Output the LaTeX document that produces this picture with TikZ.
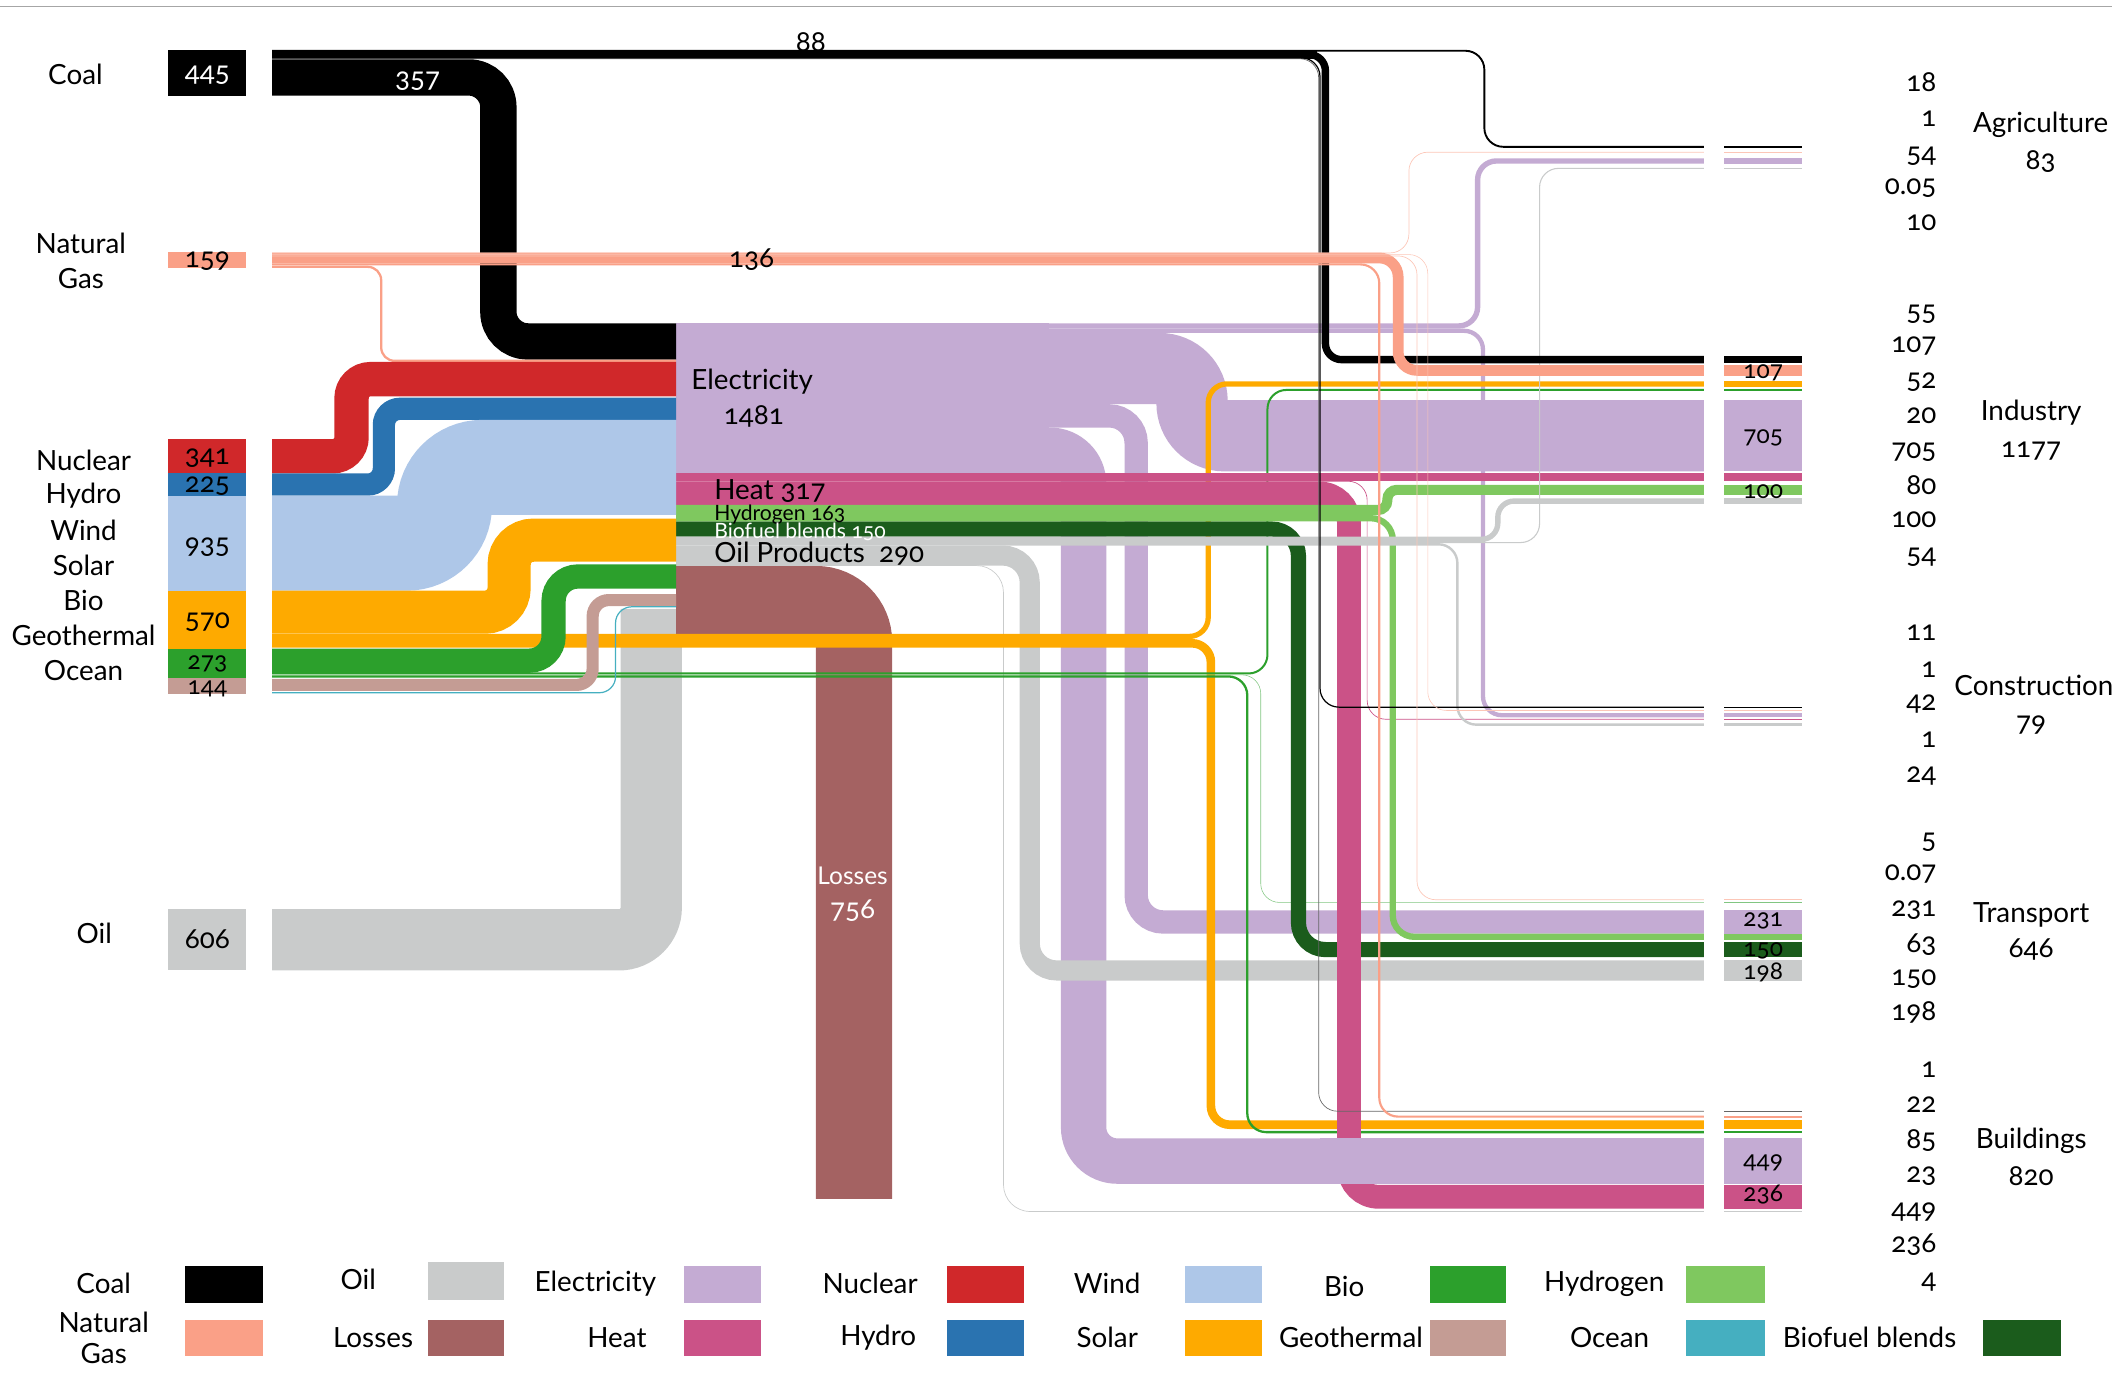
\documentclass[tikz,border=0pt]{standalone}
\usepackage{fontspec}
\setmainfont{Lato}[Numbers=OldStyle, Scale=0.94]
\usetikzlibrary{positioning}

\definecolor{gasc}{RGB}{250,160,135}
\definecolor{nucc}{RGB}{208,40,42}
\definecolor{hydc}{RGB}{42,115,176}
\definecolor{windc}{RGB}{174,199,232}
\definecolor{solc}{RGB}{254,170,0}
\definecolor{bioc}{RGB}{44,160,44}
\definecolor{geoc}{RGB}{196,156,148}
\definecolor{ocec}{RGB}{69,175,192}
\definecolor{oilc}{RGB}{201,203,203}
\definecolor{elec}{RGB}{196,171,211}
\definecolor{heatc}{RGB}{203,82,135}
\definecolor{hydrc}{RGB}{127,200,95}
\definecolor{bfuc}{RGB}{27,92,28}
\definecolor{lossc}{RGB}{164,98,98}

\tikzset{
  fl/.style={line width=#1*0.02cm},
  rc/.style={rounded corners=#1*0.02cm},
  lbl/.style={font=\fontsize{12.5}{14}\selectfont},
  small/.style={font=\fontsize{9.5}{10}\selectfont},
  tag/.style={font=\fontsize{12.5}{14}\selectfont, anchor=east},
  sbox/.style={font=\fontsize{11}{12}\selectfont},
}

\begin{document}
\begin{tikzpicture}[x=0.02cm,y=-0.02cm]
\tikzstyle{every node}+=[inner sep=0pt]
\useasboundingbox (0,0) rectangle (1568,1027);
\draw [black!35] (0,5) -- (1568,5);

% oil in and losses
\draw [oilc, fl=45.5, rc=24] (202,697.75) -- (483.5,697.75) -- (483.5,452);
\draw [lossc, fl=56.7, rc=28] (502,448.55) -- (634,448.55) -- (634,890);

% electricity
\fill [elec] (502,240) rectangle (779,351.1);
\draw [elec, fl=4, rc=14] (502,242) -- (1097,242) -- (1097,119.5) -- (1265,119.5);
\draw [elec, fl=3.2, rc=14] (502,245.6) -- (1101,245.6) -- (1101,531) -- (1265,531);
\draw [elec, fl=52.9, rc=24] (502,273.65) -- (885,273.65) -- (885,323.5) -- (1265,323.5);
\draw [elec, fl=17.3, rc=20] (502,308.75) -- (843.5,308.75) -- (843.5,684.5) -- (1265,684.5);
\draw [elec, fl=33.7, rc=25] (502,334.25) -- (804.5,334.25) -- (804.5,862) -- (1265,862);

% oil products (lower part)
\draw [oilc, fl=14.9, rc=20] (502,412.45) -- (764.5,412.45) -- (764.5,720.5) -- (1265,720.5);
\draw [oilc, fl=0.5, rc=20] (502,419.9) -- (745,419.9) -- (745,899.5) -- (1265,899.5);

% solar and bio direct
\draw [solc, fl=3.9, rc=14] (202,472.5) -- (897,472.5) -- (897,285) -- (1265,285);
\draw [solc, fl=6.4, rc=14] (202,477.6) -- (899,477.6) -- (899,835) -- (1265,835);
\draw [bioc, fl=1.5, rc=14] (202,500) -- (941,500) -- (941,289.5) -- (1265,289.5);
\draw [bioc!60, fl=0.4, rc=14] (202,501) -- (936,501) -- (936,670) -- (1265,670);
\draw [bioc, fl=1.7, rc=14] (202,502.2) -- (926,502.2) -- (926,840.5) -- (1265,840.5);

% biofuel blends
\draw [bfuc, fl=11.25, rc=20] (502,392.75) -- (964,392.75) -- (964,705) -- (1265,705);

% heat
\draw [heatc, fl=6] (502,354.1) -- (1265,354.1);
\draw [heatc, fl=0.5, rc=14] (502,357.3) -- (1015,357.3) -- (1015,534) -- (1265,534);
\draw [heatc, fl=17.7, rc=22] (502,366.35) -- (1001.5,366.35) -- (1001.5,888.5) -- (1265,888.5);

% hydrogen
\draw [hydrc, fl=7.5, rc=7] (502,378.65) -- (1030,378.65) -- (1030,363.7) -- (1265,363.7);
\draw [hydrc, fl=4.7, rc=16] (502,384.75) -- (1034,384.75) -- (1034,695.5) -- (1265,695.5);

% oil products (upper part)
\draw [oilc, fl=4, rc=12] (502,400.4) -- (1112,400.4) -- (1112,372) -- (1265,372);
\draw [oilc, fl=0.8, rc=14] (502,402.8) -- (1143,402.8) -- (1143,125) -- (1265,125);
\draw [oilc, fl=1.8, rc=14] (502,404.1) -- (1082,404.1) -- (1082,538) -- (1265,538);

% coal
\draw [black, fl=27, rc=22] (202,57.5) -- (370,57.5) -- (370,253.5) -- (502,253.5);
\draw [black, fl=6.8] (202,40.5) -- (978,40.5);
\draw [black, fl=1.4, rc=14] (202,37.7) -- (1102,37.7) -- (1102,109) -- (1265,109);
\draw [black, fl=5.5, rc=12] (202,40.5) -- (984,40.5) -- (984,267) -- (1265,267);
\draw [black, fl=0.9, rc=14] (202,42.9) -- (980,42.9) -- (980,525) -- (1265,525);
\draw [black!60, fl=0.5, rc=14] (202,43.6) -- (979,43.6) -- (979,825) -- (1265,825);

% natural gas
\draw [gasc, fl=8, rc=14] (202,191.5) -- (1038,191.5) -- (1038,275) -- (1265,275);
\draw [gasc!60, fl=0.5, rc=14] (202,187.8) -- (1046,187.8) -- (1046,113) -- (1265,113);
\draw [gasc!60, fl=0.5, rc=14] (202,190) -- (1052,190) -- (1052,668) -- (1265,668);
\draw [gasc!60, fl=0.4, rc=14] (202,189) -- (1060,189) -- (1060,527.5) -- (1265,527.5);
\draw [gasc, fl=1.6, rc=14] (202,196.3) -- (1024,196.3) -- (1024,829) -- (1265,829);
\draw [gasc, fl=1.7, rc=10] (202,198.1) -- (283,198.1) -- (283,267.9) -- (502,267.9);

% renewables and nuclear into the converter
\draw [nucc, fl=25.5, rc=14] (202,338.75) -- (261,338.75) -- (261,281.5) -- (502,281.5);
\draw [hydc, fl=16.5, rc=12] (202,359.75) -- (285,359.75) -- (285,303.5) -- (502,303.5);
\draw [windc, fl=70.5, rc=28] (202,403.25) -- (330,403.25) -- (330,347) -- (502,347);
\draw [solc, fl=32, rc=18] (202,454.5) -- (378,454.5) -- (378,401) -- (502,401);
\draw [bioc, fl=18, rc=18] (202,490.5) -- (411,490.5) -- (411,428) -- (502,428);
\draw [geoc, fl=9, rc=12] (202,508.5) -- (440,508.5) -- (440,445.5) -- (502,445.5);
\draw [ocec, fl=0.9, rc=12] (202,514.3) -- (457,514.3) -- (457,450.5) -- (502,450.5);

% electricity to buildings on top
\draw [elec, fl=33.7] (980,862) -- (1265,862);

% sector boxes
\foreach \y/\t/\c in {109/1.4/black, 113/0.5/gasc!60, 119.5/4/elec, 125/0.8/oilc,
  267/5.5/black, 275/8/gasc, 285/3.9/solc, 289.5/1.5/bioc, 323.5/52.9/elec,
  354.1/6/heatc, 363.7/7.5/hydrc, 372/4/oilc,
  525/0.9/black, 527.5/0.4/gasc!60, 531/3.2/elec, 534/0.5/heatc, 538/1.8/oilc,
  668/0.5/gasc!60, 670/0.3/bioc!60, 684.5/17.3/elec, 695.5/4.7/hydrc, 705/11.25/bfuc, 720.5/14.9/oilc,
  825/0.5/black!60, 829/1.6/gasc, 835/6.4/solc, 840.5/1.7/bioc, 862/33.7/elec, 888.5/17.7/heatc, 899.5/0.5/oilc}
  \draw [\c, fl=\t] (1280,\y) -- (1338,\y);
\node[sbox] (s107) at (1309,277) {107};
\node[sbox] (s705) at (1309,325) {705};
\node[sbox] (s100) at (1309,365) {100};
\node[sbox] (s231) at (1309,684) {231};
\node[sbox] (s150) at (1309,706) {150};
\node[sbox] (s198) at (1309,722) {198};
\node[sbox] (s449) at (1309,863) {449};
\node[sbox] (s236) at (1309,887) {236};

% source boxes
\fill [black] (125,37) rectangle (183,71);
\fill [gasc] (125,187) rectangle (183,199);
\fill [nucc] (125,326) rectangle (183,351.5);
\fill [hydc] (125,351.5) rectangle (183,368);
\fill [windc] (125,368) rectangle (183,438.5);
\fill [solc] (125,438.5) rectangle (183,481.5);
\fill [bioc] (125,481.5) rectangle (183,503);
\fill [geoc] (125,503) rectangle (183,515);
\fill [oilc] (125,675) rectangle (183,720.5);
\node[lbl, white] (v445) at (154,56) {445};
\node[lbl] (v159) at (154,194) {159};
\node[lbl] (v341) at (154,340) {341};
\node[lbl] (v225) at (154,361) {225};
\node[lbl] (v935) at (154,406) {935};
\node[lbl] (v570) at (154,462) {570};
\node[sbox] (v273) at (154,493) {273};
\node[sbox] (v144) at (154,511.5) {144};
\node[lbl] (v606) at (154,697) {606};

% source names
\node[lbl] (coal) at (56,55) {Coal};
\node[lbl] (natural) at (60,181) {Natural};
\node[lbl] (gas) at (60,207) {Gas};
\node[lbl] (nuclear) at (62,342) {Nuclear};
\node[lbl] (hydro) at (62,368) {Hydro};
\node[lbl] (wind) at (62,394) {Wind};
\node[lbl] (solar) at (62,420) {Solar};
\node[lbl] (bio) at (62,446) {Bio};
\node[lbl] (geo) at (62,472) {Geothermal};
\node[lbl] (ocean) at (62,498) {Ocean};
\node[lbl] (oil) at (70,693) {Oil};

% flow labels
\node[lbl, white] (f357) at (310,60) {357};
\node[lbl] (f88) at (602,31) {88};
\node[lbl] (f136) at (558,193) {136};
\node[lbl, anchor=west] (elname) at (513,283) {Electricity};
\node[lbl, anchor=west] (elval) at (537,309) {1481};
\node[lbl, anchor=west] (heatl) at (530,364.5) {Heat 317};
\node[small, anchor=west] (hydl) at (530,382) {Hydrogen 163};
\node[small, anchor=west, white] (bfl) at (530,395) {Biofuel blends 150};
\node[lbl, anchor=west] (oill) at (530,411) {Oil Products\ \ 290};
\node[sbox, white] (lossl) at (633,650) {Losses};
\node[lbl, white] (lossv) at (633,676) {756};

% sector values
\foreach \v/\y in {18/61, 1/88, 54/116, 0.05/140, 10/165,
  55/233, 107/257, 52/284, 20/309, 705/336, 80/360, 100/386, 54/414,
  11/470, 1/497, 42/523, 1/549, 24/576,
  5/625, 0.07/649, 231/676, 63/701, 150/727, 198/752,
  1/794, 22/820, 85/847, 23/873, 449/900, 236/924, 4/952}
  \node[tag] (r\y) at (1438,\y) {\v};

% sector names
\node[lbl] (agri) at (1515,93) {Agriculture};
\node[lbl] (agriv) at (1515,120) {83};
\node[lbl] (ind) at (1508,306) {Industry};
\node[lbl] (indv) at (1508,335) {1177};
\node[lbl] (cons) at (1510,509) {Construction};
\node[lbl] (consv) at (1508,538) {79};
\node[lbl] (trans) at (1508,679) {Transport};
\node[lbl] (transv) at (1508,705) {646};
\node[lbl] (bldg) at (1508,847) {Buildings};
\node[lbl] (bldgv) at (1508,873) {820};

% legend
\fill [black] (137,940) rectangle (195,967);
\fill [oilc] (318,937) rectangle (374,965);
\fill [elec] (508,940) rectangle (565,967);
\fill [nucc] (703,940) rectangle (760,967);
\fill [windc] (880,940) rectangle (937,967);
\fill [bioc] (1062,940) rectangle (1118,967);
\fill [hydrc] (1252,940) rectangle (1310,967);
\fill [gasc] (137,980) rectangle (195,1007);
\fill [lossc] (318,980) rectangle (374,1007);
\fill [heatc] (508,980) rectangle (565,1007);
\fill [hydc] (703,980) rectangle (760,1007);
\fill [solc] (880,980) rectangle (937,1007);
\fill [geoc] (1062,980) rectangle (1118,1007);
\fill [ocec] (1252,980) rectangle (1310,1007);
\fill [bfuc] (1472,980) rectangle (1530,1007);
\node[lbl] (lcoal) at (77,953) {Coal};
\node[lbl] (lnat) at (77,982) {Natural};
\node[lbl] (lgas) at (77,1005) {Gas};
\node[lbl] (loil) at (266,950) {Oil};
\node[lbl] (lloss) at (277,993) {Losses};
\node[lbl] (lel) at (442,953) {Electricity};
\node[lbl] (lheat) at (458,993) {Heat};
\node[lbl] (lnuc) at (646,953) {Nuclear};
\node[lbl] (lhyd) at (652,993) {Hydro};
\node[lbl] (lwind) at (822,953) {Wind};
\node[lbl] (lsol) at (822,993) {Solar};
\node[lbl] (lbio) at (998,955) {Bio};
\node[lbl] (lgeo) at (1003,993) {Geothermal};
\node[lbl] (lhydr) at (1191,953) {Hydrogen};
\node[lbl] (locean) at (1195,993) {Ocean};
\node[lbl] (lbfu) at (1388,993) {Biofuel blends};
\end{tikzpicture}
\end{document}
